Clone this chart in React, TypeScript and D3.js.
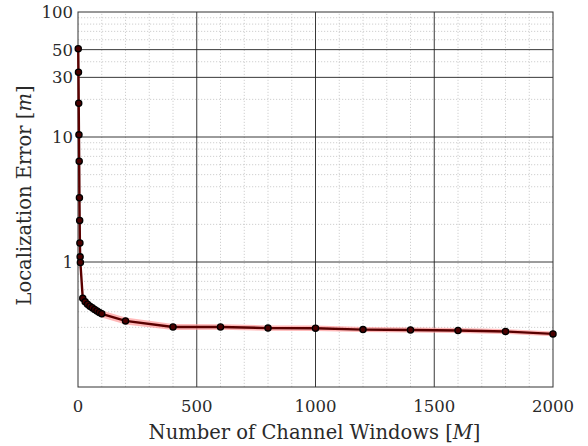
import React from 'react';
import * as d3 from 'd3';

// M values (number of channel windows)
const windows = [1, 2, 3, 4, 5, 6, 7, 8, 9, 10, 20, 30, 40, 50, 60, 70, 80, 90, 100, 200, 400, 600, 800, 1000, 1200, 1400, 1600, 1800, 2000];
// mean localization error [m]
const errorMean = [50.9, 33, 18.6, 10.4, 6.4, 3.27, 2.15, 1.42, 1.1, 0.99, 0.512, 0.48, 0.46, 0.443, 0.43, 0.417, 0.405, 0.395, 0.385, 0.338, 0.302, 0.302, 0.296, 0.295, 0.288, 0.286, 0.283, 0.278, 0.266];
// shaded band limits
const errorLow = [50, 32.5, 18.3, 10.2, 6.3, 3.2, 2.1, 1.38, 1.07, 0.96, 0.49, 0.455, 0.435, 0.418, 0.405, 0.392, 0.38, 0.37, 0.36, 0.316, 0.286, 0.287, 0.282, 0.281, 0.275, 0.273, 0.27, 0.266, 0.255];
const errorHigh = [51.8, 33.5, 18.9, 10.6, 6.5, 3.34, 2.2, 1.46, 1.13, 1.02, 0.535, 0.505, 0.485, 0.468, 0.456, 0.443, 0.43, 0.42, 0.41, 0.36, 0.319, 0.318, 0.311, 0.31, 0.302, 0.299, 0.296, 0.291, 0.278];

const xTicks = [0, 500, 1000, 1500, 2000];
const yTicks = [1, 10, 30, 50, 100];
const xMinor = d3.range(100, 2000, 100).filter((v) => v % 500 !== 0);
const yMinor = [0.2, 0.3, 0.4, 0.5, 0.6, 0.7, 0.8, 0.9, 2, 3, 4, 5, 6, 7, 8, 9, 20, 40, 60, 70, 80, 90];

const W = 588;
const H = 446;
const margin = { top: 12, right: 35, bottom: 59, left: 78 };

export default function App() {
  const x = d3.scaleLinear().domain([0, 2000]).range([margin.left, W - margin.right]);
  const y = d3.scaleLog().domain([0.1, 100]).range([H - margin.bottom, margin.top]);

  const pts = windows.map((m, i) => ({ m, v: errorMean[i], lo: errorLow[i], hi: errorHigh[i] }));

  const band = d3
    .area<typeof pts[0]>()
    .x((d) => x(d.m))
    .y0((d) => y(d.lo))
    .y1((d) => y(d.hi));
  const line = d3
    .line<typeof pts[0]>()
    .x((d) => x(d.m))
    .y((d) => y(d.v));

  const [x0, x1] = x.range();
  const [y0, y1] = y.range();
  const font = "'DejaVu Serif', serif";

  return (
    <svg width={W} height={H} style={{ position: 'absolute', left: 0, top: 0, background: '#fff' }}>
      {/* minor grid */}
      <g stroke="#c4c4c4" strokeWidth={0.8} strokeDasharray="1.2,1.8">
        {xMinor.map((v) => (
          <line key={'xm' + v} x1={x(v)} x2={x(v)} y1={y0} y2={y1} />
        ))}
        {yMinor.map((v) => (
          <line key={'ym' + v} x1={x0} x2={x1} y1={y(v)} y2={y(v)} />
        ))}
      </g>
      {/* major grid */}
      <g stroke="#222" strokeWidth={0.9}>
        {xTicks.slice(1, -1).map((v) => (
          <line key={'xg' + v} x1={x(v)} x2={x(v)} y1={y0} y2={y1} />
        ))}
        {yTicks.slice(0, -1).map((v) => (
          <line key={'yg' + v} x1={x0} x2={x1} y1={y(v)} y2={y(v)} />
        ))}
      </g>
      {/* box */}
      <rect x={x0} y={y1} width={x1 - x0} height={y0 - y1} fill="none" stroke="#333" strokeWidth={1} />

      {/* data */}
      <path d={band(pts) ?? ''} fill="#ff9a9a" fillOpacity={0.7} stroke="none" />
      <path d={line(pts) ?? ''} fill="none" stroke="#5a0000" strokeWidth={2.4} />
      <g>
        {pts.map((d) => (
          <circle key={d.m} cx={x(d.m)} cy={y(d.v)} r={3.1} fill="#4a0000" stroke="#000" strokeWidth={1.3} />
        ))}
      </g>

      {/* tick labels */}
      <g fontFamily={font} fontSize={16.5} fill="#2a2a2a">
        {xTicks.map((v) => (
          <text key={'xt' + v} x={x(v)} y={y0 + 25} textAnchor="middle">
            {v}
          </text>
        ))}
        {yTicks.map((v) => (
          <text key={'yt' + v} x={x0 - 5} y={y(v) + 6} textAnchor="end">
            {v}
          </text>
        ))}
      </g>

      {/* axis titles */}
      <text x={(x0 + x1) / 2 - 1} y={H - 7} textAnchor="middle" fontFamily={font} fontSize={19.5} fill="#2a2a2a">
        Number of Channel Windows [<tspan fontStyle="italic">M</tspan>]
      </text>
      <text
        transform={`translate(31,${(y0 + y1) / 2 - 4}) rotate(-90)`}
        textAnchor="middle"
        fontFamily={font}
        fontSize={19.5}
        fill="#2a2a2a"
      >
        Localization Error [<tspan fontStyle="italic">m</tspan>]
      </text>
    </svg>
  );
}
